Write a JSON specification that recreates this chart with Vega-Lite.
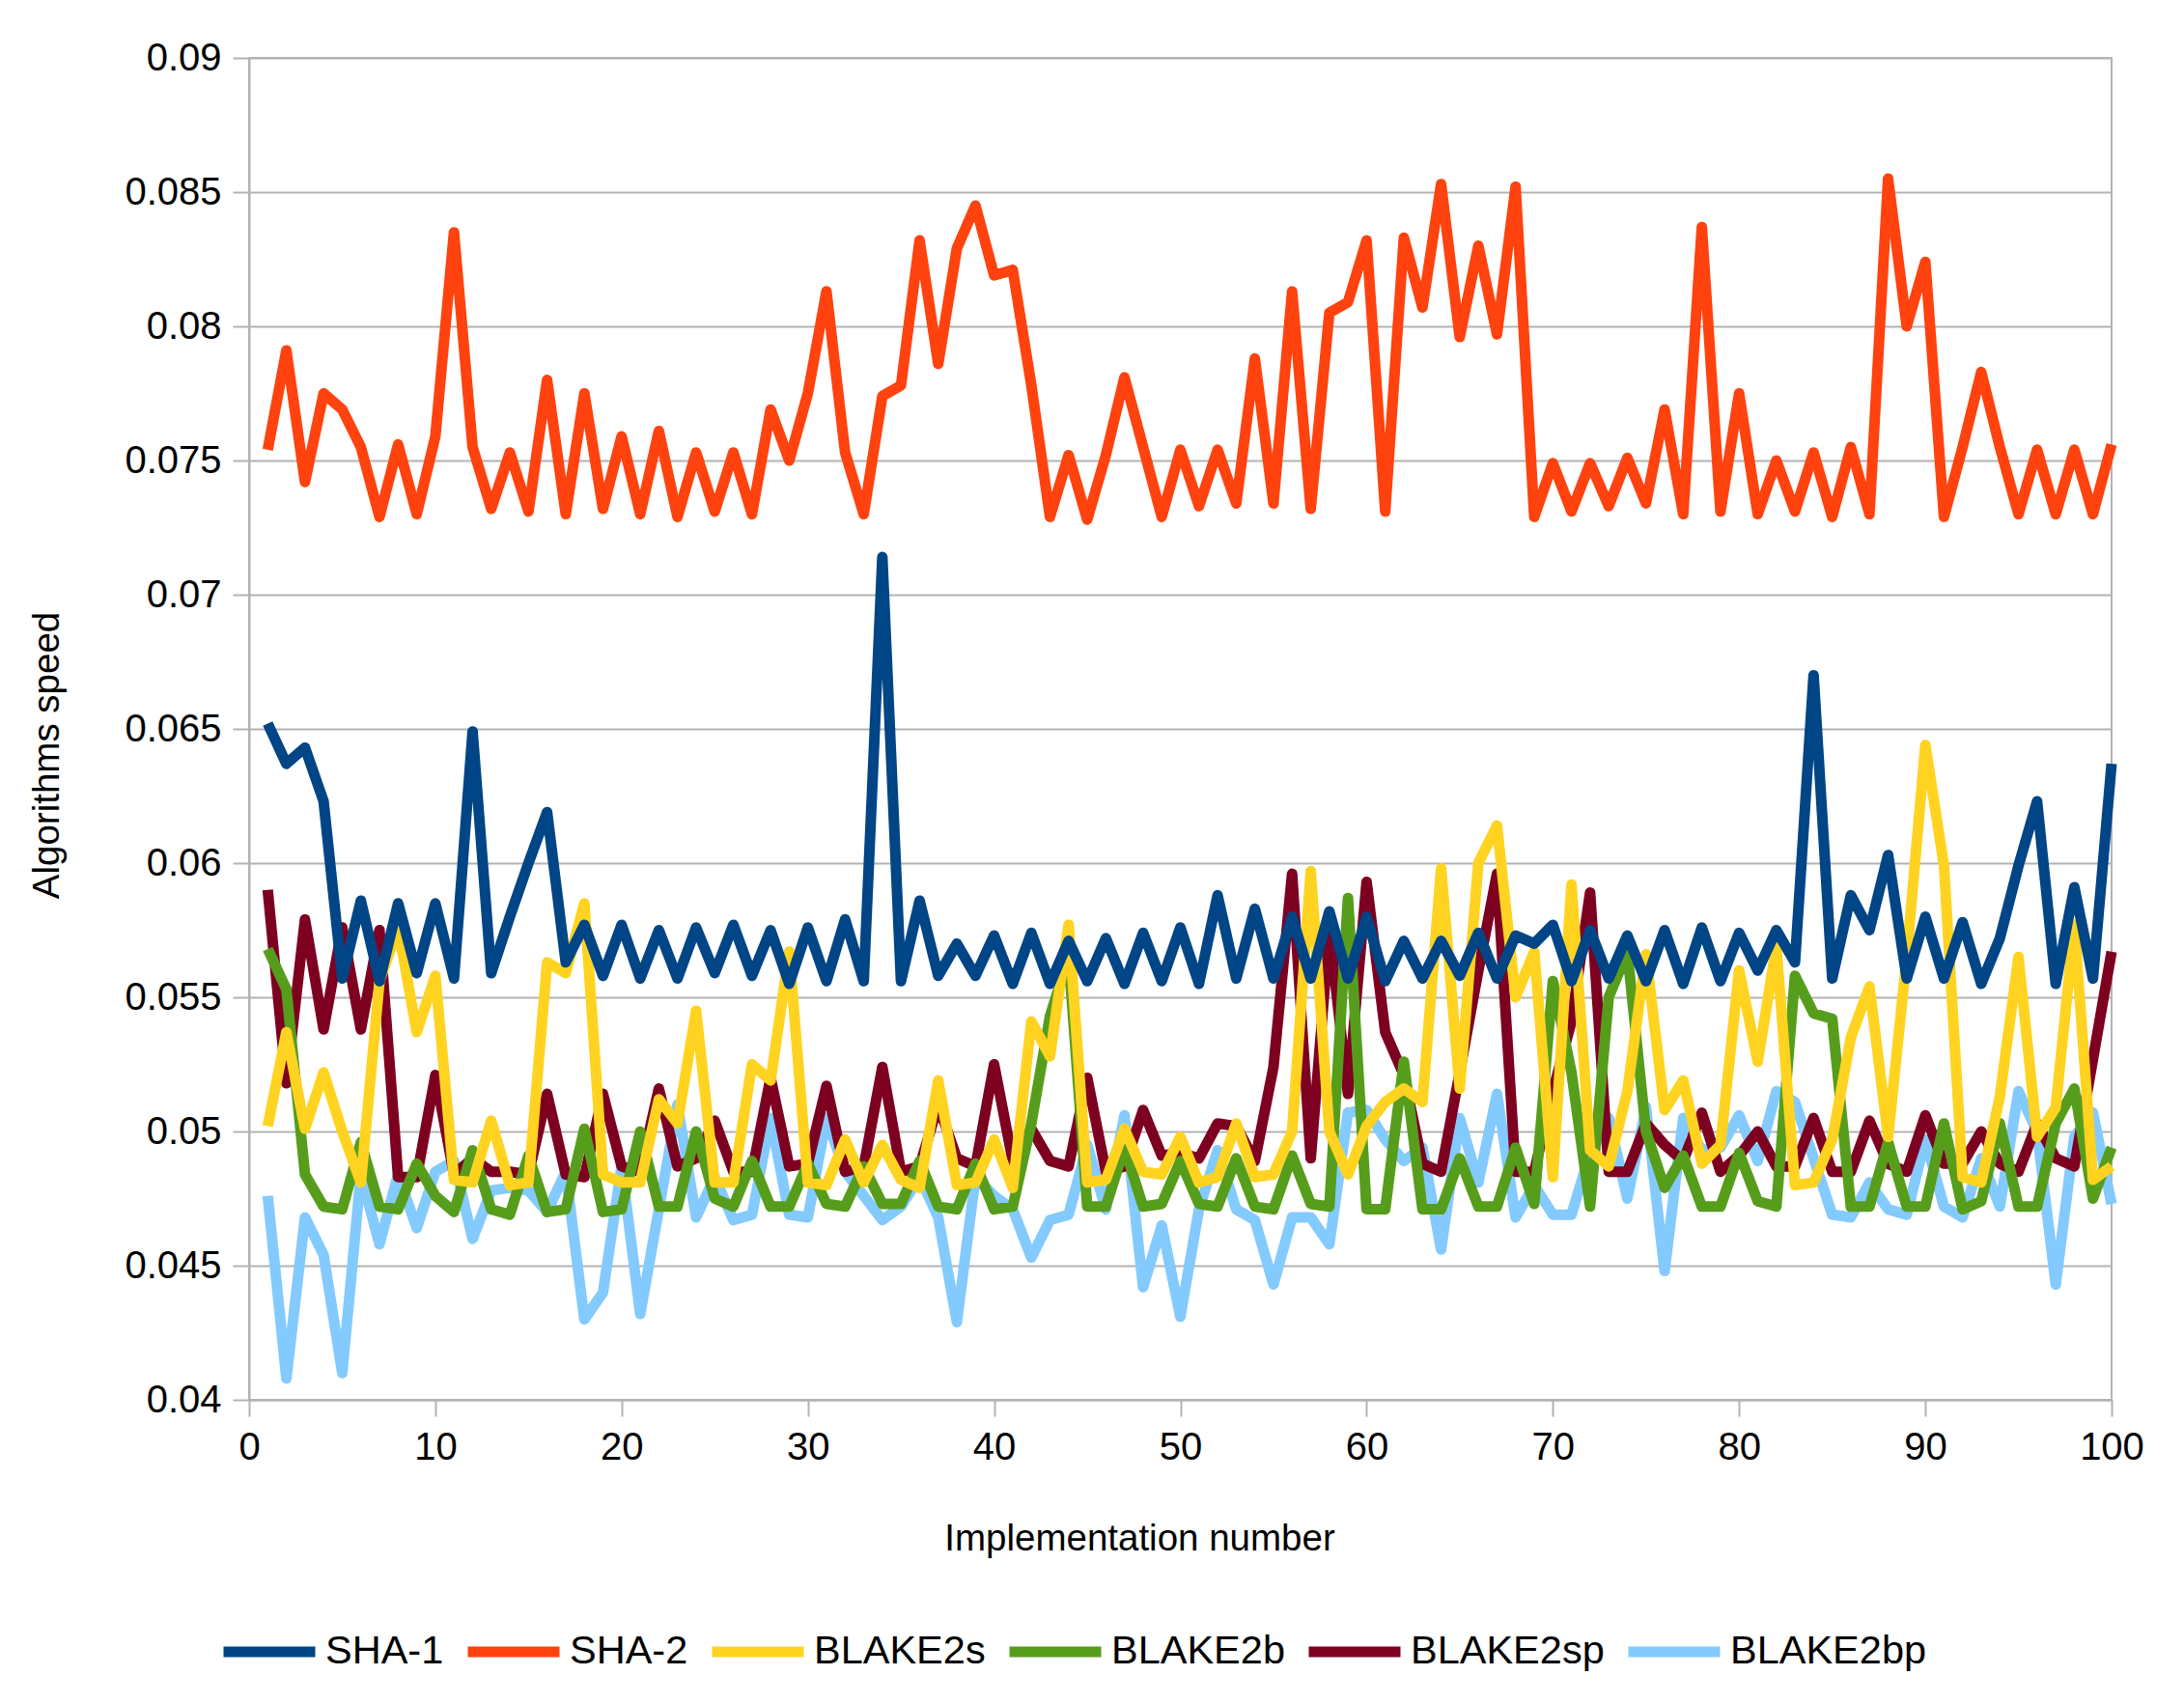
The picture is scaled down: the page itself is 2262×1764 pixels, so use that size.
{
  "$schema": "https://vega.github.io/schema/vega-lite/v6.json",
  "width": 1929,
  "height": 1390,
  "autosize": {"type": "none"},
  "padding": {"left": 258, "top": 60, "right": 75, "bottom": 314},
  "background": "white",
  "config": {
    "font": "Liberation Sans",
    "view": {"stroke": "#b3b3b3", "strokeWidth": 2},
    "axis": {
      "labelFont": "Liberation Sans",
      "titleFont": "Liberation Sans",
      "labelFontSize": 40,
      "titleFontSize": 38.5,
      "titleFontWeight": "normal",
      "labelColor": "black",
      "titleColor": "black",
      "domainColor": "#b3b3b3",
      "domainWidth": 2,
      "tickColor": "#b3b3b3",
      "tickWidth": 2,
      "tickSize": 17,
      "gridColor": "#b3b3b3",
      "gridWidth": 2
    },
    "legend": {
      "labelFont": "Liberation Sans",
      "labelFontSize": 41.5,
      "labelColor": "black"
    }
  },
  "data": {
    "values": [
      {"impl":1,"algo":"SHA-1","speed":0.0652},{"impl":2,"algo":"SHA-1","speed":0.0637},{"impl":3,"algo":"SHA-1","speed":0.0643},{"impl":4,"algo":"SHA-1","speed":0.0623},{"impl":5,"algo":"SHA-1","speed":0.0557},
      {"impl":6,"algo":"SHA-1","speed":0.0586},{"impl":7,"algo":"SHA-1","speed":0.0556},{"impl":8,"algo":"SHA-1","speed":0.0585},{"impl":9,"algo":"SHA-1","speed":0.0559},{"impl":10,"algo":"SHA-1","speed":0.0585},
      {"impl":11,"algo":"SHA-1","speed":0.0557},{"impl":12,"algo":"SHA-1","speed":0.0649},{"impl":13,"algo":"SHA-1","speed":0.0559},{"impl":14,"algo":"SHA-1","speed":0.0580},{"impl":15,"algo":"SHA-1","speed":0.0600},
      {"impl":16,"algo":"SHA-1","speed":0.0619},{"impl":17,"algo":"SHA-1","speed":0.0563},{"impl":18,"algo":"SHA-1","speed":0.0577},{"impl":19,"algo":"SHA-1","speed":0.0558},{"impl":20,"algo":"SHA-1","speed":0.0577},
      {"impl":21,"algo":"SHA-1","speed":0.0557},{"impl":22,"algo":"SHA-1","speed":0.0575},{"impl":23,"algo":"SHA-1","speed":0.0557},{"impl":24,"algo":"SHA-1","speed":0.0576},{"impl":25,"algo":"SHA-1","speed":0.0559},
      {"impl":26,"algo":"SHA-1","speed":0.0577},{"impl":27,"algo":"SHA-1","speed":0.0558},{"impl":28,"algo":"SHA-1","speed":0.0575},{"impl":29,"algo":"SHA-1","speed":0.0555},{"impl":30,"algo":"SHA-1","speed":0.0576},
      {"impl":31,"algo":"SHA-1","speed":0.0556},{"impl":32,"algo":"SHA-1","speed":0.0579},{"impl":33,"algo":"SHA-1","speed":0.0556},{"impl":34,"algo":"SHA-1","speed":0.0714},{"impl":35,"algo":"SHA-1","speed":0.0556},
      {"impl":36,"algo":"SHA-1","speed":0.0586},{"impl":37,"algo":"SHA-1","speed":0.0558},{"impl":38,"algo":"SHA-1","speed":0.0570},{"impl":39,"algo":"SHA-1","speed":0.0558},{"impl":40,"algo":"SHA-1","speed":0.0573},
      {"impl":41,"algo":"SHA-1","speed":0.0555},{"impl":42,"algo":"SHA-1","speed":0.0574},{"impl":43,"algo":"SHA-1","speed":0.0555},{"impl":44,"algo":"SHA-1","speed":0.0571},{"impl":45,"algo":"SHA-1","speed":0.0556},
      {"impl":46,"algo":"SHA-1","speed":0.0572},{"impl":47,"algo":"SHA-1","speed":0.0555},{"impl":48,"algo":"SHA-1","speed":0.0574},{"impl":49,"algo":"SHA-1","speed":0.0556},{"impl":50,"algo":"SHA-1","speed":0.0576},
      {"impl":51,"algo":"SHA-1","speed":0.0555},{"impl":52,"algo":"SHA-1","speed":0.0588},{"impl":53,"algo":"SHA-1","speed":0.0557},{"impl":54,"algo":"SHA-1","speed":0.0583},{"impl":55,"algo":"SHA-1","speed":0.0557},
      {"impl":56,"algo":"SHA-1","speed":0.0580},{"impl":57,"algo":"SHA-1","speed":0.0557},{"impl":58,"algo":"SHA-1","speed":0.0582},{"impl":59,"algo":"SHA-1","speed":0.0557},{"impl":60,"algo":"SHA-1","speed":0.0580},
      {"impl":61,"algo":"SHA-1","speed":0.0556},{"impl":62,"algo":"SHA-1","speed":0.0571},{"impl":63,"algo":"SHA-1","speed":0.0557},{"impl":64,"algo":"SHA-1","speed":0.0571},{"impl":65,"algo":"SHA-1","speed":0.0558},
      {"impl":66,"algo":"SHA-1","speed":0.0574},{"impl":67,"algo":"SHA-1","speed":0.0557},{"impl":68,"algo":"SHA-1","speed":0.0573},{"impl":69,"algo":"SHA-1","speed":0.0570},{"impl":70,"algo":"SHA-1","speed":0.0577},
      {"impl":71,"algo":"SHA-1","speed":0.0556},{"impl":72,"algo":"SHA-1","speed":0.0575},{"impl":73,"algo":"SHA-1","speed":0.0557},{"impl":74,"algo":"SHA-1","speed":0.0573},{"impl":75,"algo":"SHA-1","speed":0.0556},
      {"impl":76,"algo":"SHA-1","speed":0.0575},{"impl":77,"algo":"SHA-1","speed":0.0555},{"impl":78,"algo":"SHA-1","speed":0.0576},{"impl":79,"algo":"SHA-1","speed":0.0556},{"impl":80,"algo":"SHA-1","speed":0.0574},
      {"impl":81,"algo":"SHA-1","speed":0.0560},{"impl":82,"algo":"SHA-1","speed":0.0575},{"impl":83,"algo":"SHA-1","speed":0.0563},{"impl":84,"algo":"SHA-1","speed":0.0670},{"impl":85,"algo":"SHA-1","speed":0.0557},
      {"impl":86,"algo":"SHA-1","speed":0.0588},{"impl":87,"algo":"SHA-1","speed":0.0575},{"impl":88,"algo":"SHA-1","speed":0.0603},{"impl":89,"algo":"SHA-1","speed":0.0557},{"impl":90,"algo":"SHA-1","speed":0.0580},
      {"impl":91,"algo":"SHA-1","speed":0.0557},{"impl":92,"algo":"SHA-1","speed":0.0578},{"impl":93,"algo":"SHA-1","speed":0.0555},{"impl":94,"algo":"SHA-1","speed":0.0572},{"impl":95,"algo":"SHA-1","speed":0.0599},
      {"impl":96,"algo":"SHA-1","speed":0.0623},{"impl":97,"algo":"SHA-1","speed":0.0555},{"impl":98,"algo":"SHA-1","speed":0.0591},{"impl":99,"algo":"SHA-1","speed":0.0557},{"impl":100,"algo":"SHA-1","speed":0.0637},

      {"impl":1,"algo":"SHA-2","speed":0.0754},{"impl":2,"algo":"SHA-2","speed":0.0791},{"impl":3,"algo":"SHA-2","speed":0.0742},{"impl":4,"algo":"SHA-2","speed":0.0775},{"impl":5,"algo":"SHA-2","speed":0.0769},
      {"impl":6,"algo":"SHA-2","speed":0.0755},{"impl":7,"algo":"SHA-2","speed":0.0729},{"impl":8,"algo":"SHA-2","speed":0.0756},{"impl":9,"algo":"SHA-2","speed":0.0730},{"impl":10,"algo":"SHA-2","speed":0.0759},
      {"impl":11,"algo":"SHA-2","speed":0.0835},{"impl":12,"algo":"SHA-2","speed":0.0755},{"impl":13,"algo":"SHA-2","speed":0.0732},{"impl":14,"algo":"SHA-2","speed":0.0753},{"impl":15,"algo":"SHA-2","speed":0.0731},
      {"impl":16,"algo":"SHA-2","speed":0.0780},{"impl":17,"algo":"SHA-2","speed":0.0730},{"impl":18,"algo":"SHA-2","speed":0.0775},{"impl":19,"algo":"SHA-2","speed":0.0732},{"impl":20,"algo":"SHA-2","speed":0.0759},
      {"impl":21,"algo":"SHA-2","speed":0.0730},{"impl":22,"algo":"SHA-2","speed":0.0761},{"impl":23,"algo":"SHA-2","speed":0.0729},{"impl":24,"algo":"SHA-2","speed":0.0753},{"impl":25,"algo":"SHA-2","speed":0.0731},
      {"impl":26,"algo":"SHA-2","speed":0.0753},{"impl":27,"algo":"SHA-2","speed":0.0730},{"impl":28,"algo":"SHA-2","speed":0.0769},{"impl":29,"algo":"SHA-2","speed":0.0750},{"impl":30,"algo":"SHA-2","speed":0.0775},
      {"impl":31,"algo":"SHA-2","speed":0.0813},{"impl":32,"algo":"SHA-2","speed":0.0753},{"impl":33,"algo":"SHA-2","speed":0.0730},{"impl":34,"algo":"SHA-2","speed":0.0774},{"impl":35,"algo":"SHA-2","speed":0.0778},
      {"impl":36,"algo":"SHA-2","speed":0.0832},{"impl":37,"algo":"SHA-2","speed":0.0786},{"impl":38,"algo":"SHA-2","speed":0.0829},{"impl":39,"algo":"SHA-2","speed":0.0845},{"impl":40,"algo":"SHA-2","speed":0.0819},
      {"impl":41,"algo":"SHA-2","speed":0.0821},{"impl":42,"algo":"SHA-2","speed":0.0778},{"impl":43,"algo":"SHA-2","speed":0.0729},{"impl":44,"algo":"SHA-2","speed":0.0752},{"impl":45,"algo":"SHA-2","speed":0.0728},
      {"impl":46,"algo":"SHA-2","speed":0.0752},{"impl":47,"algo":"SHA-2","speed":0.0781},{"impl":48,"algo":"SHA-2","speed":0.0755},{"impl":49,"algo":"SHA-2","speed":0.0729},{"impl":50,"algo":"SHA-2","speed":0.0754},
      {"impl":51,"algo":"SHA-2","speed":0.0733},{"impl":52,"algo":"SHA-2","speed":0.0754},{"impl":53,"algo":"SHA-2","speed":0.0734},{"impl":54,"algo":"SHA-2","speed":0.0788},{"impl":55,"algo":"SHA-2","speed":0.0734},
      {"impl":56,"algo":"SHA-2","speed":0.0813},{"impl":57,"algo":"SHA-2","speed":0.0732},{"impl":58,"algo":"SHA-2","speed":0.0805},{"impl":59,"algo":"SHA-2","speed":0.0809},{"impl":60,"algo":"SHA-2","speed":0.0832},
      {"impl":61,"algo":"SHA-2","speed":0.0731},{"impl":62,"algo":"SHA-2","speed":0.0833},{"impl":63,"algo":"SHA-2","speed":0.0807},{"impl":64,"algo":"SHA-2","speed":0.0853},{"impl":65,"algo":"SHA-2","speed":0.0796},
      {"impl":66,"algo":"SHA-2","speed":0.0830},{"impl":67,"algo":"SHA-2","speed":0.0797},{"impl":68,"algo":"SHA-2","speed":0.0852},{"impl":69,"algo":"SHA-2","speed":0.0729},{"impl":70,"algo":"SHA-2","speed":0.0749},
      {"impl":71,"algo":"SHA-2","speed":0.0731},{"impl":72,"algo":"SHA-2","speed":0.0749},{"impl":73,"algo":"SHA-2","speed":0.0733},{"impl":74,"algo":"SHA-2","speed":0.0751},{"impl":75,"algo":"SHA-2","speed":0.0734},
      {"impl":76,"algo":"SHA-2","speed":0.0769},{"impl":77,"algo":"SHA-2","speed":0.0730},{"impl":78,"algo":"SHA-2","speed":0.0837},{"impl":79,"algo":"SHA-2","speed":0.0731},{"impl":80,"algo":"SHA-2","speed":0.0775},
      {"impl":81,"algo":"SHA-2","speed":0.0730},{"impl":82,"algo":"SHA-2","speed":0.0750},{"impl":83,"algo":"SHA-2","speed":0.0731},{"impl":84,"algo":"SHA-2","speed":0.0753},{"impl":85,"algo":"SHA-2","speed":0.0729},
      {"impl":86,"algo":"SHA-2","speed":0.0755},{"impl":87,"algo":"SHA-2","speed":0.0730},{"impl":88,"algo":"SHA-2","speed":0.0855},{"impl":89,"algo":"SHA-2","speed":0.0800},{"impl":90,"algo":"SHA-2","speed":0.0824},
      {"impl":91,"algo":"SHA-2","speed":0.0729},{"impl":92,"algo":"SHA-2","speed":0.0755},{"impl":93,"algo":"SHA-2","speed":0.0783},{"impl":94,"algo":"SHA-2","speed":0.0755},{"impl":95,"algo":"SHA-2","speed":0.0730},
      {"impl":96,"algo":"SHA-2","speed":0.0754},{"impl":97,"algo":"SHA-2","speed":0.0730},{"impl":98,"algo":"SHA-2","speed":0.0754},{"impl":99,"algo":"SHA-2","speed":0.0730},{"impl":100,"algo":"SHA-2","speed":0.0756},

      {"impl":1,"algo":"BLAKE2s","speed":0.0502},{"impl":2,"algo":"BLAKE2s","speed":0.0537},{"impl":3,"algo":"BLAKE2s","speed":0.0501},{"impl":4,"algo":"BLAKE2s","speed":0.0522},{"impl":5,"algo":"BLAKE2s","speed":0.0500},
      {"impl":6,"algo":"BLAKE2s","speed":0.0481},{"impl":7,"algo":"BLAKE2s","speed":0.0556},{"impl":8,"algo":"BLAKE2s","speed":0.0576},{"impl":9,"algo":"BLAKE2s","speed":0.0537},{"impl":10,"algo":"BLAKE2s","speed":0.0558},
      {"impl":11,"algo":"BLAKE2s","speed":0.0482},{"impl":12,"algo":"BLAKE2s","speed":0.0481},{"impl":13,"algo":"BLAKE2s","speed":0.0504},{"impl":14,"algo":"BLAKE2s","speed":0.0480},{"impl":15,"algo":"BLAKE2s","speed":0.0481},
      {"impl":16,"algo":"BLAKE2s","speed":0.0563},{"impl":17,"algo":"BLAKE2s","speed":0.0559},{"impl":18,"algo":"BLAKE2s","speed":0.0585},{"impl":19,"algo":"BLAKE2s","speed":0.0484},{"impl":20,"algo":"BLAKE2s","speed":0.0481},
      {"impl":21,"algo":"BLAKE2s","speed":0.0481},{"impl":22,"algo":"BLAKE2s","speed":0.0512},{"impl":23,"algo":"BLAKE2s","speed":0.0503},{"impl":24,"algo":"BLAKE2s","speed":0.0545},{"impl":25,"algo":"BLAKE2s","speed":0.0481},
      {"impl":26,"algo":"BLAKE2s","speed":0.0481},{"impl":27,"algo":"BLAKE2s","speed":0.0525},{"impl":28,"algo":"BLAKE2s","speed":0.0519},{"impl":29,"algo":"BLAKE2s","speed":0.0567},{"impl":30,"algo":"BLAKE2s","speed":0.0481},
      {"impl":31,"algo":"BLAKE2s","speed":0.0480},{"impl":32,"algo":"BLAKE2s","speed":0.0497},{"impl":33,"algo":"BLAKE2s","speed":0.0481},{"impl":34,"algo":"BLAKE2s","speed":0.0495},{"impl":35,"algo":"BLAKE2s","speed":0.0482},
      {"impl":36,"algo":"BLAKE2s","speed":0.0479},{"impl":37,"algo":"BLAKE2s","speed":0.0519},{"impl":38,"algo":"BLAKE2s","speed":0.0480},{"impl":39,"algo":"BLAKE2s","speed":0.0481},{"impl":40,"algo":"BLAKE2s","speed":0.0497},
      {"impl":41,"algo":"BLAKE2s","speed":0.0479},{"impl":42,"algo":"BLAKE2s","speed":0.0541},{"impl":43,"algo":"BLAKE2s","speed":0.0528},{"impl":44,"algo":"BLAKE2s","speed":0.0577},{"impl":45,"algo":"BLAKE2s","speed":0.0481},
      {"impl":46,"algo":"BLAKE2s","speed":0.0482},{"impl":47,"algo":"BLAKE2s","speed":0.0501},{"impl":48,"algo":"BLAKE2s","speed":0.0485},{"impl":49,"algo":"BLAKE2s","speed":0.0484},{"impl":50,"algo":"BLAKE2s","speed":0.0498},
      {"impl":51,"algo":"BLAKE2s","speed":0.0481},{"impl":52,"algo":"BLAKE2s","speed":0.0483},{"impl":53,"algo":"BLAKE2s","speed":0.0503},{"impl":54,"algo":"BLAKE2s","speed":0.0483},{"impl":55,"algo":"BLAKE2s","speed":0.0484},
      {"impl":56,"algo":"BLAKE2s","speed":0.0500},{"impl":57,"algo":"BLAKE2s","speed":0.0597},{"impl":58,"algo":"BLAKE2s","speed":0.0500},{"impl":59,"algo":"BLAKE2s","speed":0.0484},{"impl":60,"algo":"BLAKE2s","speed":0.0502},
      {"impl":61,"algo":"BLAKE2s","speed":0.0511},{"impl":62,"algo":"BLAKE2s","speed":0.0516},{"impl":63,"algo":"BLAKE2s","speed":0.0511},{"impl":64,"algo":"BLAKE2s","speed":0.0598},{"impl":65,"algo":"BLAKE2s","speed":0.0516},
      {"impl":66,"algo":"BLAKE2s","speed":0.0600},{"impl":67,"algo":"BLAKE2s","speed":0.0614},{"impl":68,"algo":"BLAKE2s","speed":0.0550},{"impl":69,"algo":"BLAKE2s","speed":0.0567},{"impl":70,"algo":"BLAKE2s","speed":0.0483},
      {"impl":71,"algo":"BLAKE2s","speed":0.0592},{"impl":72,"algo":"BLAKE2s","speed":0.0493},{"impl":73,"algo":"BLAKE2s","speed":0.0487},{"impl":74,"algo":"BLAKE2s","speed":0.0515},{"impl":75,"algo":"BLAKE2s","speed":0.0566},
      {"impl":76,"algo":"BLAKE2s","speed":0.0508},{"impl":77,"algo":"BLAKE2s","speed":0.0519},{"impl":78,"algo":"BLAKE2s","speed":0.0488},{"impl":79,"algo":"BLAKE2s","speed":0.0495},{"impl":80,"algo":"BLAKE2s","speed":0.0560},
      {"impl":81,"algo":"BLAKE2s","speed":0.0526},{"impl":82,"algo":"BLAKE2s","speed":0.0569},{"impl":83,"algo":"BLAKE2s","speed":0.0480},{"impl":84,"algo":"BLAKE2s","speed":0.0481},{"impl":85,"algo":"BLAKE2s","speed":0.0497},
      {"impl":86,"algo":"BLAKE2s","speed":0.0535},{"impl":87,"algo":"BLAKE2s","speed":0.0554},{"impl":88,"algo":"BLAKE2s","speed":0.0498},{"impl":89,"algo":"BLAKE2s","speed":0.0565},{"impl":90,"algo":"BLAKE2s","speed":0.0644},
      {"impl":91,"algo":"BLAKE2s","speed":0.0599},{"impl":92,"algo":"BLAKE2s","speed":0.0483},{"impl":93,"algo":"BLAKE2s","speed":0.0481},{"impl":94,"algo":"BLAKE2s","speed":0.0513},{"impl":95,"algo":"BLAKE2s","speed":0.0565},
      {"impl":96,"algo":"BLAKE2s","speed":0.0498},{"impl":97,"algo":"BLAKE2s","speed":0.0509},{"impl":98,"algo":"BLAKE2s","speed":0.0577},{"impl":99,"algo":"BLAKE2s","speed":0.0482},{"impl":100,"algo":"BLAKE2s","speed":0.0487},

      {"impl":1,"algo":"BLAKE2b","speed":0.0568},{"impl":2,"algo":"BLAKE2b","speed":0.0553},{"impl":3,"algo":"BLAKE2b","speed":0.0484},{"impl":4,"algo":"BLAKE2b","speed":0.0472},{"impl":5,"algo":"BLAKE2b","speed":0.0471},
      {"impl":6,"algo":"BLAKE2b","speed":0.0496},{"impl":7,"algo":"BLAKE2b","speed":0.0472},{"impl":8,"algo":"BLAKE2b","speed":0.0471},{"impl":9,"algo":"BLAKE2b","speed":0.0488},{"impl":10,"algo":"BLAKE2b","speed":0.0476},
      {"impl":11,"algo":"BLAKE2b","speed":0.0470},{"impl":12,"algo":"BLAKE2b","speed":0.0493},{"impl":13,"algo":"BLAKE2b","speed":0.0471},{"impl":14,"algo":"BLAKE2b","speed":0.0469},{"impl":15,"algo":"BLAKE2b","speed":0.0491},
      {"impl":16,"algo":"BLAKE2b","speed":0.0470},{"impl":17,"algo":"BLAKE2b","speed":0.0471},{"impl":18,"algo":"BLAKE2b","speed":0.0501},{"impl":19,"algo":"BLAKE2b","speed":0.0470},{"impl":20,"algo":"BLAKE2b","speed":0.0471},
      {"impl":21,"algo":"BLAKE2b","speed":0.0500},{"impl":22,"algo":"BLAKE2b","speed":0.0472},{"impl":23,"algo":"BLAKE2b","speed":0.0472},{"impl":24,"algo":"BLAKE2b","speed":0.0500},{"impl":25,"algo":"BLAKE2b","speed":0.0475},
      {"impl":26,"algo":"BLAKE2b","speed":0.0472},{"impl":27,"algo":"BLAKE2b","speed":0.0489},{"impl":28,"algo":"BLAKE2b","speed":0.0472},{"impl":29,"algo":"BLAKE2b","speed":0.0472},{"impl":30,"algo":"BLAKE2b","speed":0.0488},
      {"impl":31,"algo":"BLAKE2b","speed":0.0473},{"impl":32,"algo":"BLAKE2b","speed":0.0472},{"impl":33,"algo":"BLAKE2b","speed":0.0487},{"impl":34,"algo":"BLAKE2b","speed":0.0473},{"impl":35,"algo":"BLAKE2b","speed":0.0473},
      {"impl":36,"algo":"BLAKE2b","speed":0.0489},{"impl":37,"algo":"BLAKE2b","speed":0.0472},{"impl":38,"algo":"BLAKE2b","speed":0.0471},{"impl":39,"algo":"BLAKE2b","speed":0.0488},{"impl":40,"algo":"BLAKE2b","speed":0.0471},
      {"impl":41,"algo":"BLAKE2b","speed":0.0472},{"impl":42,"algo":"BLAKE2b","speed":0.0503},{"impl":43,"algo":"BLAKE2b","speed":0.0543},{"impl":44,"algo":"BLAKE2b","speed":0.0565},{"impl":45,"algo":"BLAKE2b","speed":0.0472},
      {"impl":46,"algo":"BLAKE2b","speed":0.0472},{"impl":47,"algo":"BLAKE2b","speed":0.0494},{"impl":48,"algo":"BLAKE2b","speed":0.0472},{"impl":49,"algo":"BLAKE2b","speed":0.0473},{"impl":50,"algo":"BLAKE2b","speed":0.0489},
      {"impl":51,"algo":"BLAKE2b","speed":0.0473},{"impl":52,"algo":"BLAKE2b","speed":0.0472},{"impl":53,"algo":"BLAKE2b","speed":0.0490},{"impl":54,"algo":"BLAKE2b","speed":0.0472},{"impl":55,"algo":"BLAKE2b","speed":0.0471},
      {"impl":56,"algo":"BLAKE2b","speed":0.0491},{"impl":57,"algo":"BLAKE2b","speed":0.0473},{"impl":58,"algo":"BLAKE2b","speed":0.0472},{"impl":59,"algo":"BLAKE2b","speed":0.0587},{"impl":60,"algo":"BLAKE2b","speed":0.0471},
      {"impl":61,"algo":"BLAKE2b","speed":0.0471},{"impl":62,"algo":"BLAKE2b","speed":0.0526},{"impl":63,"algo":"BLAKE2b","speed":0.0471},{"impl":64,"algo":"BLAKE2b","speed":0.0471},{"impl":65,"algo":"BLAKE2b","speed":0.0490},
      {"impl":66,"algo":"BLAKE2b","speed":0.0472},{"impl":67,"algo":"BLAKE2b","speed":0.0472},{"impl":68,"algo":"BLAKE2b","speed":0.0494},{"impl":69,"algo":"BLAKE2b","speed":0.0473},{"impl":70,"algo":"BLAKE2b","speed":0.0556},
      {"impl":71,"algo":"BLAKE2b","speed":0.0522},{"impl":72,"algo":"BLAKE2b","speed":0.0472},{"impl":73,"algo":"BLAKE2b","speed":0.0550},{"impl":74,"algo":"BLAKE2b","speed":0.0567},{"impl":75,"algo":"BLAKE2b","speed":0.0500},
      {"impl":76,"algo":"BLAKE2b","speed":0.0479},{"impl":77,"algo":"BLAKE2b","speed":0.0491},{"impl":78,"algo":"BLAKE2b","speed":0.0472},{"impl":79,"algo":"BLAKE2b","speed":0.0472},{"impl":80,"algo":"BLAKE2b","speed":0.0492},
      {"impl":81,"algo":"BLAKE2b","speed":0.0474},{"impl":82,"algo":"BLAKE2b","speed":0.0472},{"impl":83,"algo":"BLAKE2b","speed":0.0558},{"impl":84,"algo":"BLAKE2b","speed":0.0544},{"impl":85,"algo":"BLAKE2b","speed":0.0542},
      {"impl":86,"algo":"BLAKE2b","speed":0.0472},{"impl":87,"algo":"BLAKE2b","speed":0.0472},{"impl":88,"algo":"BLAKE2b","speed":0.0496},{"impl":89,"algo":"BLAKE2b","speed":0.0472},{"impl":90,"algo":"BLAKE2b","speed":0.0472},
      {"impl":91,"algo":"BLAKE2b","speed":0.0503},{"impl":92,"algo":"BLAKE2b","speed":0.0471},{"impl":93,"algo":"BLAKE2b","speed":0.0474},{"impl":94,"algo":"BLAKE2b","speed":0.0503},{"impl":95,"algo":"BLAKE2b","speed":0.0472},
      {"impl":96,"algo":"BLAKE2b","speed":0.0472},{"impl":97,"algo":"BLAKE2b","speed":0.0503},{"impl":98,"algo":"BLAKE2b","speed":0.0516},{"impl":99,"algo":"BLAKE2b","speed":0.0475},{"impl":100,"algo":"BLAKE2b","speed":0.0494},

      {"impl":1,"algo":"BLAKE2sp","speed":0.0590},{"impl":2,"algo":"BLAKE2sp","speed":0.0518},{"impl":3,"algo":"BLAKE2sp","speed":0.0579},{"impl":4,"algo":"BLAKE2sp","speed":0.0538},{"impl":5,"algo":"BLAKE2sp","speed":0.0576},
      {"impl":6,"algo":"BLAKE2sp","speed":0.0538},{"impl":7,"algo":"BLAKE2sp","speed":0.0575},{"impl":8,"algo":"BLAKE2sp","speed":0.0483},{"impl":9,"algo":"BLAKE2sp","speed":0.0483},{"impl":10,"algo":"BLAKE2sp","speed":0.0521},
      {"impl":11,"algo":"BLAKE2sp","speed":0.0484},{"impl":12,"algo":"BLAKE2sp","speed":0.0490},{"impl":13,"algo":"BLAKE2sp","speed":0.0485},{"impl":14,"algo":"BLAKE2sp","speed":0.0485},{"impl":15,"algo":"BLAKE2sp","speed":0.0484},
      {"impl":16,"algo":"BLAKE2sp","speed":0.0514},{"impl":17,"algo":"BLAKE2sp","speed":0.0484},{"impl":18,"algo":"BLAKE2sp","speed":0.0483},{"impl":19,"algo":"BLAKE2sp","speed":0.0514},{"impl":20,"algo":"BLAKE2sp","speed":0.0487},
      {"impl":21,"algo":"BLAKE2sp","speed":0.0485},{"impl":22,"algo":"BLAKE2sp","speed":0.0516},{"impl":23,"algo":"BLAKE2sp","speed":0.0487},{"impl":24,"algo":"BLAKE2sp","speed":0.0490},{"impl":25,"algo":"BLAKE2sp","speed":0.0504},
      {"impl":26,"algo":"BLAKE2sp","speed":0.0485},{"impl":27,"algo":"BLAKE2sp","speed":0.0485},{"impl":28,"algo":"BLAKE2sp","speed":0.0520},{"impl":29,"algo":"BLAKE2sp","speed":0.0487},{"impl":30,"algo":"BLAKE2sp","speed":0.0488},
      {"impl":31,"algo":"BLAKE2sp","speed":0.0517},{"impl":32,"algo":"BLAKE2sp","speed":0.0485},{"impl":33,"algo":"BLAKE2sp","speed":0.0487},{"impl":34,"algo":"BLAKE2sp","speed":0.0524},{"impl":35,"algo":"BLAKE2sp","speed":0.0485},
      {"impl":36,"algo":"BLAKE2sp","speed":0.0487},{"impl":37,"algo":"BLAKE2sp","speed":0.0510},{"impl":38,"algo":"BLAKE2sp","speed":0.0490},{"impl":39,"algo":"BLAKE2sp","speed":0.0487},{"impl":40,"algo":"BLAKE2sp","speed":0.0525},
      {"impl":41,"algo":"BLAKE2sp","speed":0.0489},{"impl":42,"algo":"BLAKE2sp","speed":0.0501},{"impl":43,"algo":"BLAKE2sp","speed":0.0489},{"impl":44,"algo":"BLAKE2sp","speed":0.0487},{"impl":45,"algo":"BLAKE2sp","speed":0.0520},
      {"impl":46,"algo":"BLAKE2sp","speed":0.0485},{"impl":47,"algo":"BLAKE2sp","speed":0.0487},{"impl":48,"algo":"BLAKE2sp","speed":0.0508},{"impl":49,"algo":"BLAKE2sp","speed":0.0491},{"impl":50,"algo":"BLAKE2sp","speed":0.0492},
      {"impl":51,"algo":"BLAKE2sp","speed":0.0490},{"impl":52,"algo":"BLAKE2sp","speed":0.0503},{"impl":53,"algo":"BLAKE2sp","speed":0.0502},{"impl":54,"algo":"BLAKE2sp","speed":0.0489},{"impl":55,"algo":"BLAKE2sp","speed":0.0524},
      {"impl":56,"algo":"BLAKE2sp","speed":0.0596},{"impl":57,"algo":"BLAKE2sp","speed":0.0490},{"impl":58,"algo":"BLAKE2sp","speed":0.0575},{"impl":59,"algo":"BLAKE2sp","speed":0.0514},{"impl":60,"algo":"BLAKE2sp","speed":0.0593},
      {"impl":61,"algo":"BLAKE2sp","speed":0.0537},{"impl":62,"algo":"BLAKE2sp","speed":0.0521},{"impl":63,"algo":"BLAKE2sp","speed":0.0488},{"impl":64,"algo":"BLAKE2sp","speed":0.0485},{"impl":65,"algo":"BLAKE2sp","speed":0.0522},
      {"impl":66,"algo":"BLAKE2sp","speed":0.0560},{"impl":67,"algo":"BLAKE2sp","speed":0.0596},{"impl":68,"algo":"BLAKE2sp","speed":0.0485},{"impl":69,"algo":"BLAKE2sp","speed":0.0485},{"impl":70,"algo":"BLAKE2sp","speed":0.0515},
      {"impl":71,"algo":"BLAKE2sp","speed":0.0541},{"impl":72,"algo":"BLAKE2sp","speed":0.0589},{"impl":73,"algo":"BLAKE2sp","speed":0.0485},{"impl":74,"algo":"BLAKE2sp","speed":0.0485},{"impl":75,"algo":"BLAKE2sp","speed":0.0503},
      {"impl":76,"algo":"BLAKE2sp","speed":0.0495},{"impl":77,"algo":"BLAKE2sp","speed":0.0489},{"impl":78,"algo":"BLAKE2sp","speed":0.0507},{"impl":79,"algo":"BLAKE2sp","speed":0.0485},{"impl":80,"algo":"BLAKE2sp","speed":0.0491},
      {"impl":81,"algo":"BLAKE2sp","speed":0.0500},{"impl":82,"algo":"BLAKE2sp","speed":0.0487},{"impl":83,"algo":"BLAKE2sp","speed":0.0487},{"impl":84,"algo":"BLAKE2sp","speed":0.0505},{"impl":85,"algo":"BLAKE2sp","speed":0.0485},
      {"impl":86,"algo":"BLAKE2sp","speed":0.0485},{"impl":87,"algo":"BLAKE2sp","speed":0.0504},{"impl":88,"algo":"BLAKE2sp","speed":0.0488},{"impl":89,"algo":"BLAKE2sp","speed":0.0485},{"impl":90,"algo":"BLAKE2sp","speed":0.0506},
      {"impl":91,"algo":"BLAKE2sp","speed":0.0488},{"impl":92,"algo":"BLAKE2sp","speed":0.0488},{"impl":93,"algo":"BLAKE2sp","speed":0.0500},{"impl":94,"algo":"BLAKE2sp","speed":0.0488},{"impl":95,"algo":"BLAKE2sp","speed":0.0485},
      {"impl":96,"algo":"BLAKE2sp","speed":0.0503},{"impl":97,"algo":"BLAKE2sp","speed":0.0490},{"impl":98,"algo":"BLAKE2sp","speed":0.0487},{"impl":99,"algo":"BLAKE2sp","speed":0.0527},{"impl":100,"algo":"BLAKE2sp","speed":0.0567},

      {"impl":1,"algo":"BLAKE2bp","speed":0.0476},{"impl":2,"algo":"BLAKE2bp","speed":0.0408},{"impl":3,"algo":"BLAKE2bp","speed":0.0468},{"impl":4,"algo":"BLAKE2bp","speed":0.0454},{"impl":5,"algo":"BLAKE2bp","speed":0.0410},
      {"impl":6,"algo":"BLAKE2bp","speed":0.0484},{"impl":7,"algo":"BLAKE2bp","speed":0.0458},{"impl":8,"algo":"BLAKE2bp","speed":0.0484},{"impl":9,"algo":"BLAKE2bp","speed":0.0464},{"impl":10,"algo":"BLAKE2bp","speed":0.0485},
      {"impl":11,"algo":"BLAKE2bp","speed":0.0489},{"impl":12,"algo":"BLAKE2bp","speed":0.0460},{"impl":13,"algo":"BLAKE2bp","speed":0.0478},{"impl":14,"algo":"BLAKE2bp","speed":0.0479},{"impl":15,"algo":"BLAKE2bp","speed":0.0478},
      {"impl":16,"algo":"BLAKE2bp","speed":0.0470},{"impl":17,"algo":"BLAKE2bp","speed":0.0485},{"impl":18,"algo":"BLAKE2bp","speed":0.0430},{"impl":19,"algo":"BLAKE2bp","speed":0.0440},{"impl":20,"algo":"BLAKE2bp","speed":0.0487},
      {"impl":21,"algo":"BLAKE2bp","speed":0.0432},{"impl":22,"algo":"BLAKE2bp","speed":0.0471},{"impl":23,"algo":"BLAKE2bp","speed":0.0510},{"impl":24,"algo":"BLAKE2bp","speed":0.0468},{"impl":25,"algo":"BLAKE2bp","speed":0.0483},
      {"impl":26,"algo":"BLAKE2bp","speed":0.0467},{"impl":27,"algo":"BLAKE2bp","speed":0.0469},{"impl":28,"algo":"BLAKE2bp","speed":0.0505},{"impl":29,"algo":"BLAKE2bp","speed":0.0469},{"impl":30,"algo":"BLAKE2bp","speed":0.0468},
      {"impl":31,"algo":"BLAKE2bp","speed":0.0505},{"impl":32,"algo":"BLAKE2bp","speed":0.0485},{"impl":33,"algo":"BLAKE2bp","speed":0.0476},{"impl":34,"algo":"BLAKE2bp","speed":0.0467},{"impl":35,"algo":"BLAKE2bp","speed":0.0472},
      {"impl":36,"algo":"BLAKE2bp","speed":0.0483},{"impl":37,"algo":"BLAKE2bp","speed":0.0468},{"impl":38,"algo":"BLAKE2bp","speed":0.0429},{"impl":39,"algo":"BLAKE2bp","speed":0.0483},{"impl":40,"algo":"BLAKE2bp","speed":0.0476},
      {"impl":41,"algo":"BLAKE2bp","speed":0.0471},{"impl":42,"algo":"BLAKE2bp","speed":0.0453},{"impl":43,"algo":"BLAKE2bp","speed":0.0467},{"impl":44,"algo":"BLAKE2bp","speed":0.0469},{"impl":45,"algo":"BLAKE2bp","speed":0.0495},
      {"impl":46,"algo":"BLAKE2bp","speed":0.0471},{"impl":47,"algo":"BLAKE2bp","speed":0.0506},{"impl":48,"algo":"BLAKE2bp","speed":0.0442},{"impl":49,"algo":"BLAKE2bp","speed":0.0465},{"impl":50,"algo":"BLAKE2bp","speed":0.0431},
      {"impl":51,"algo":"BLAKE2bp","speed":0.0471},{"impl":52,"algo":"BLAKE2bp","speed":0.0493},{"impl":53,"algo":"BLAKE2bp","speed":0.0471},{"impl":54,"algo":"BLAKE2bp","speed":0.0467},{"impl":55,"algo":"BLAKE2bp","speed":0.0443},
      {"impl":56,"algo":"BLAKE2bp","speed":0.0468},{"impl":57,"algo":"BLAKE2bp","speed":0.0468},{"impl":58,"algo":"BLAKE2bp","speed":0.0458},{"impl":59,"algo":"BLAKE2bp","speed":0.0507},{"impl":60,"algo":"BLAKE2bp","speed":0.0508},
      {"impl":61,"algo":"BLAKE2bp","speed":0.0497},{"impl":62,"algo":"BLAKE2bp","speed":0.0489},{"impl":63,"algo":"BLAKE2bp","speed":0.0494},{"impl":64,"algo":"BLAKE2bp","speed":0.0456},{"impl":65,"algo":"BLAKE2bp","speed":0.0505},
      {"impl":66,"algo":"BLAKE2bp","speed":0.0481},{"impl":67,"algo":"BLAKE2bp","speed":0.0514},{"impl":68,"algo":"BLAKE2bp","speed":0.0468},{"impl":69,"algo":"BLAKE2bp","speed":0.0480},{"impl":70,"algo":"BLAKE2bp","speed":0.0469},
      {"impl":71,"algo":"BLAKE2bp","speed":0.0469},{"impl":72,"algo":"BLAKE2bp","speed":0.0492},{"impl":73,"algo":"BLAKE2bp","speed":0.0505},{"impl":74,"algo":"BLAKE2bp","speed":0.0475},{"impl":75,"algo":"BLAKE2bp","speed":0.0509},
      {"impl":76,"algo":"BLAKE2bp","speed":0.0448},{"impl":77,"algo":"BLAKE2bp","speed":0.0505},{"impl":78,"algo":"BLAKE2bp","speed":0.0493},{"impl":79,"algo":"BLAKE2bp","speed":0.0494},{"impl":80,"algo":"BLAKE2bp","speed":0.0506},
      {"impl":81,"algo":"BLAKE2bp","speed":0.0489},{"impl":82,"algo":"BLAKE2bp","speed":0.0515},{"impl":83,"algo":"BLAKE2bp","speed":0.0511},{"impl":84,"algo":"BLAKE2bp","speed":0.0490},{"impl":85,"algo":"BLAKE2bp","speed":0.0469},
      {"impl":86,"algo":"BLAKE2bp","speed":0.0468},{"impl":87,"algo":"BLAKE2bp","speed":0.0481},{"impl":88,"algo":"BLAKE2bp","speed":0.0471},{"impl":89,"algo":"BLAKE2bp","speed":0.0469},{"impl":90,"algo":"BLAKE2bp","speed":0.0497},
      {"impl":91,"algo":"BLAKE2bp","speed":0.0472},{"impl":92,"algo":"BLAKE2bp","speed":0.0468},{"impl":93,"algo":"BLAKE2bp","speed":0.0490},{"impl":94,"algo":"BLAKE2bp","speed":0.0472},{"impl":95,"algo":"BLAKE2bp","speed":0.0515},
      {"impl":96,"algo":"BLAKE2bp","speed":0.0500},{"impl":97,"algo":"BLAKE2bp","speed":0.0443},{"impl":98,"algo":"BLAKE2bp","speed":0.0498},{"impl":99,"algo":"BLAKE2bp","speed":0.0507},{"impl":100,"algo":"BLAKE2bp","speed":0.0473}
    ]
  },
  "encoding": {
    "x": {
      "field": "impl",
      "type": "quantitative",
      "title": "Implementation number",
      "scale": {"domain": [0, 100], "nice": false},
      "axis": {
        "values": [0, 10, 20, 30, 40, 50, 60, 70, 80, 90, 100],
        "grid": false,
        "labelFlush": false,
        "labelPadding": 12,
        "titleX": 922,
        "titleY": 143,
        "titleBaseline": "middle"
      }
    },
    "y": {
      "field": "speed",
      "type": "quantitative",
      "title": "Algorithms speed",
      "scale": {"domain": [0.04, 0.09], "nice": false, "zero": false},
      "axis": {
        "values": [0.04, 0.045, 0.05, 0.055, 0.06, 0.065, 0.07, 0.075, 0.08, 0.085, 0.09],
        "format": "~g",
        "grid": true,
        "labelFlush": false,
        "labelPadding": 12,
        "titleX": -210,
        "titleY": 722,
        "titleAngle": -90,
        "titleBaseline": "middle",
        "titleAlign": "center"
      }
    },
    "color": {
      "field": "algo",
      "type": "nominal",
      "scale": {
        "domain": ["SHA-1", "SHA-2", "BLAKE2s", "BLAKE2b", "BLAKE2sp", "BLAKE2bp"],
        "range": ["#004586", "#ff420e", "#ffd320", "#579d1c", "#7e0021", "#83caff"]
      },
      "legend": {
        "title": null,
        "orient": "none",
        "direction": "horizontal",
        "legendX": -32,
        "legendY": 1598,
        "padding": 0,
        "symbolType": "stroke",
        "symbolSize": 9025,
        "symbolStrokeWidth": 11,
        "labelOffset": 5,
        "labelLimit": 0,
        "columnPadding": 2,
        "labelFontSize": 41.5
      }
    }
  },
  "layer": [
    {"transform": [{"filter": "datum.algo === 'BLAKE2bp'"}], "mark": {"type": "line", "strokeWidth": 11, "strokeJoin": "round", "strokeCap": "butt"}},
    {"transform": [{"filter": "datum.algo === 'BLAKE2sp'"}], "mark": {"type": "line", "strokeWidth": 11, "strokeJoin": "round", "strokeCap": "butt"}},
    {"transform": [{"filter": "datum.algo === 'BLAKE2b'"}], "mark": {"type": "line", "strokeWidth": 11, "strokeJoin": "round", "strokeCap": "butt"}},
    {"transform": [{"filter": "datum.algo === 'BLAKE2s'"}], "mark": {"type": "line", "strokeWidth": 11, "strokeJoin": "round", "strokeCap": "butt"}},
    {"transform": [{"filter": "datum.algo === 'SHA-2'"}], "mark": {"type": "line", "strokeWidth": 11, "strokeJoin": "round", "strokeCap": "butt"}},
    {"transform": [{"filter": "datum.algo === 'SHA-1'"}], "mark": {"type": "line", "strokeWidth": 11, "strokeJoin": "round", "strokeCap": "butt"}}
  ]
}
